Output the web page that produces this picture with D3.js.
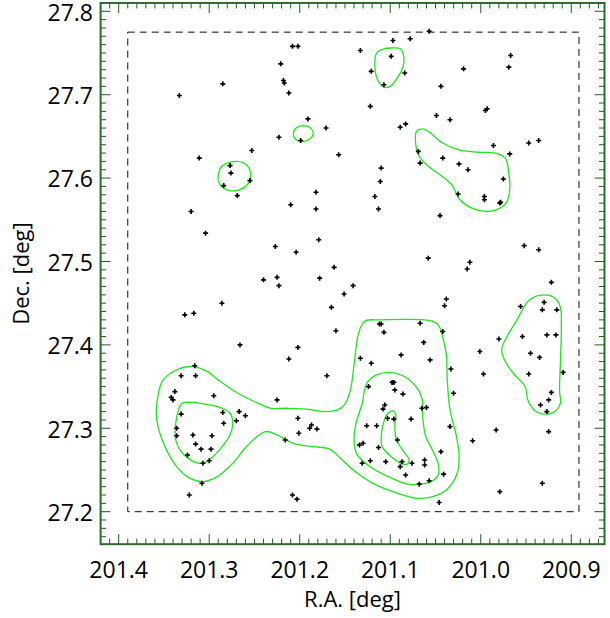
<!DOCTYPE html>
<html>
<head>
<meta charset="utf-8">
<script src="https://cdn.jsdelivr.net/npm/d3@7"></script>
<style>
  html, body { margin: 0; padding: 0; background: #fff; }
  svg { display: block; }
  text { font-family: "Open Sans", "Noto Sans", sans-serif; fill: #000; }
</style>
</head>
<body>
<svg id="chart" width="610" height="618"></svg>
<script>
// Source positions (R.A., Dec. in degrees)
const starRA = [
  201.208, 201.202, 201.221, 201.285, 201.218, 201.217, 201.333, 201.212, 201.191, 201.171,
  201.223, 201.199, 201.253, 201.311, 201.157, 201.277, 201.276, 201.255, 201.284, 201.269,
  201.182, 201.210, 201.182, 201.320, 201.304, 201.179, 201.227, 201.204, 201.162, 201.240,
  201.225, 201.223, 201.178, 201.151, 201.286, 201.327, 201.317, 201.165, 201.160,
  201.057, 201.097, 201.078, 201.133, 201.099, 201.121, 201.084, 201.107, 200.967, 200.969,
  201.019, 201.044, 201.122, 200.995, 200.993, 201.049, 201.034, 201.089, 201.083, 200.947,
  200.936, 200.986, 200.968, 201.069, 201.042, 201.067, 201.024, 201.014, 201.110, 201.111,
  200.975, 201.117, 201.113, 201.025, 200.996, 200.996, 200.979, 200.978, 201.045, 200.952,
  200.936, 201.058, 201.012, 201.015, 201.141, 201.038, 201.040, 200.922, 200.956, 200.930,
  200.932, 200.916,
  201.112, 201.110, 201.067, 201.107, 201.042, 201.063, 201.088, 201.133, 201.121, 201.056,
  201.033, 200.954, 200.927, 200.917, 200.980, 201.001, 200.945, 200.935, 200.997, 200.947,
  200.909, 201.098, 201.096, 201.124, 201.095, 201.086, 201.030, 200.922, 200.925, 200.934,
  200.927, 201.106, 201.108, 201.065, 201.060, 201.103, 201.096, 201.077, 201.126, 201.115,
  201.034, 200.983, 200.925, 201.009, 201.092, 201.134, 201.130, 201.113, 201.044, 201.131,
  201.122, 201.105, 201.087, 201.076, 201.062, 201.062, 201.089, 201.083, 201.041, 201.068,
  201.057, 200.932, 200.979, 201.046,
  201.266, 201.202, 201.212, 201.170, 201.316, 201.331, 201.315, 201.338, 201.342, 201.340,
  201.295, 201.225, 201.331, 201.285, 201.267, 201.260, 201.270, 201.284, 201.336, 201.202,
  201.187, 201.189, 201.181, 201.201, 201.336, 201.318, 201.297, 201.315, 201.309, 201.298,
  201.324, 201.307, 201.300, 201.216, 201.308, 201.322, 201.208, 201.203
];
const starDec = [
  27.758, 27.758, 27.737, 27.713, 27.717, 27.714, 27.699, 27.702, 27.671, 27.660,
  27.649, 27.645, 27.633, 27.624, 27.628, 27.615, 27.606, 27.597, 27.591, 27.579,
  27.583, 27.568, 27.563, 27.560, 27.534, 27.526, 27.518, 27.511, 27.493, 27.478,
  27.481, 27.471, 27.480, 27.461, 27.450, 27.436, 27.438, 27.445, 27.417,
  27.776, 27.765, 27.767, 27.753, 27.746, 27.728, 27.726, 27.712, 27.747, 27.733,
  27.731, 27.710, 27.686, 27.681, 27.683, 27.675, 27.670, 27.661, 27.665, 27.642,
  27.645, 27.639, 27.629, 27.632, 27.624, 27.618, 27.617, 27.610, 27.612, 27.596,
  27.599, 27.578, 27.563, 27.581, 27.578, 27.574, 27.570, 27.571, 27.555, 27.519,
  27.514, 27.504, 27.499, 27.491, 27.471, 27.455, 27.447, 27.475, 27.446, 27.451,
  27.442, 27.442,
  27.425, 27.425, 27.426, 27.415, 27.416, 27.403, 27.388, 27.384, 27.378, 27.382,
  27.371, 27.410, 27.412, 27.412, 27.407, 27.392, 27.390, 27.385, 27.365, 27.365,
  27.367, 27.355, 27.355, 27.350, 27.346, 27.341, 27.342, 27.343, 27.334, 27.328,
  27.320, 27.328, 27.323, 27.324, 27.325, 27.312, 27.311, 27.311, 27.303, 27.303,
  27.302, 27.298, 27.296, 27.285, 27.286, 27.280, 27.282, 27.277, 27.272, 27.258,
  27.261, 27.260, 27.260, 27.258, 27.262, 27.256, 27.254, 27.244, 27.245, 27.233,
  27.237, 27.234, 27.224, 27.211,
  27.400, 27.397, 27.383, 27.363, 27.375, 27.363, 27.363, 27.344, 27.337, 27.334,
  27.339, 27.334, 27.317, 27.319, 27.320, 27.315, 27.309, 27.306, 27.300, 27.312,
  27.304, 27.300, 27.299, 27.294, 27.291, 27.292, 27.291, 27.281, 27.275, 27.275,
  27.268, 27.258, 27.261, 27.286, 27.234, 27.220, 27.220, 27.215
];

// Surface-density contours, as closed outlines of [R.A., Dec.] vertices
const contourSouthOuter = [
  [201.358, 27.328], [201.352, 27.356], [201.338, 27.369], [201.318, 27.374], [201.302, 27.368],
  [201.290, 27.358], [201.273, 27.345], [201.252, 27.333], [201.232, 27.324], [201.214, 27.324],
  [201.192, 27.323], [201.172, 27.320], [201.158, 27.322], [201.150, 27.329], [201.144, 27.346],
  [201.140, 27.376], [201.136, 27.409], [201.132, 27.423], [201.127, 27.429], [201.111, 27.430],
  [201.056, 27.429], [201.047, 27.424], [201.042, 27.409], [201.038, 27.388], [201.037, 27.358],
  [201.034, 27.322], [201.027, 27.291], [201.024, 27.267], [201.026, 27.246], [201.037, 27.227],
  [201.053, 27.218], [201.070, 27.216], [201.097, 27.224], [201.119, 27.234], [201.141, 27.250],
  [201.155, 27.264], [201.167, 27.275], [201.185, 27.278], [201.207, 27.282], [201.225, 27.292],
  [201.238, 27.296], [201.258, 27.279], [201.274, 27.258], [201.291, 27.242], [201.307, 27.236],
  [201.321, 27.240], [201.336, 27.254], [201.352, 27.286], [201.358, 27.310]
];
const contourWestInner = [
  [201.334, 27.322], [201.330, 27.330], [201.318, 27.331], [201.305, 27.329], [201.291, 27.326],
  [201.277, 27.318], [201.274, 27.306], [201.277, 27.292], [201.288, 27.275], [201.299, 27.263],
  [201.307, 27.258], [201.319, 27.261], [201.331, 27.272], [201.337, 27.286], [201.337, 27.306]
];
const contourCoreMid = [
  [201.131, 27.330], [201.126, 27.354], [201.115, 27.364], [201.100, 27.367], [201.086, 27.363],
  [201.073, 27.352], [201.065, 27.336], [201.064, 27.312], [201.061, 27.291], [201.053, 27.273],
  [201.047, 27.257], [201.047, 27.244], [201.055, 27.236], [201.067, 27.233], [201.081, 27.233],
  [201.100, 27.241], [201.121, 27.253], [201.137, 27.269], [201.140, 27.286], [201.138, 27.305]
];
const contourCoreInner = [
  [201.104, 27.316], [201.100, 27.320], [201.097, 27.321], [201.094, 27.317], [201.095, 27.302],
  [201.093, 27.286], [201.085, 27.272], [201.079, 27.262], [201.081, 27.257], [201.088, 27.258],
  [201.099, 27.266], [201.109, 27.278], [201.110, 27.290], [201.108, 27.304]
];
const contourEast = [
  [200.946, 27.454], [200.931, 27.460], [200.918, 27.456], [200.912, 27.445], [200.911, 27.421],
  [200.912, 27.378], [200.913, 27.346], [200.912, 27.330], [200.916, 27.322], [200.927, 27.317],
  [200.940, 27.321], [200.948, 27.334], [200.951, 27.350], [200.964, 27.366], [200.973, 27.380],
  [200.977, 27.394], [200.973, 27.406], [200.960, 27.430]
];
const contourNorthEast = [
  [201.071, 27.656], [201.065, 27.659], [201.058, 27.656], [201.042, 27.642], [201.025, 27.634],
  [201.004, 27.631], [200.984, 27.630], [200.973, 27.624], [200.969, 27.606], [200.968, 27.586],
  [200.972, 27.570], [200.983, 27.562], [200.995, 27.560], [201.010, 27.564], [201.023, 27.574],
  [201.032, 27.592], [201.045, 27.604], [201.060, 27.616], [201.069, 27.628], [201.072, 27.642]
];
const contourNorth = [
  [201.115, 27.750], [201.107, 27.755], [201.099, 27.756], [201.089, 27.755], [201.085, 27.745],
  [201.086, 27.733], [201.091, 27.722], [201.100, 27.710], [201.107, 27.709], [201.114, 27.718],
  [201.117, 27.734]
];
const contourWest = [
  [201.290, 27.604], [201.287, 27.613], [201.280, 27.618], [201.270, 27.620], [201.259, 27.616],
  [201.254, 27.604], [201.258, 27.592], [201.267, 27.586], [201.277, 27.585], [201.286, 27.589],
  [201.290, 27.597]
];
const contourSmall = [
  [201.207, 27.654], [201.203, 27.661], [201.196, 27.663], [201.189, 27.661], [201.185, 27.653],
  [201.189, 27.647], [201.196, 27.644], [201.204, 27.646]
];
const contours = [contourSouthOuter, contourWestInner, contourCoreMid, contourCoreInner,
                  contourEast, contourNorthEast, contourNorth, contourWest, contourSmall];

// Survey field boundary and axis ticks
const fieldRA = [201.39, 200.8915];
const fieldDec = [27.2, 27.775];
const raMajor = [201.4, 201.3, 201.2, 201.1, 201.0, 200.9];
const raLabels = ["201.4", "201.3", "201.2", "201.1", "201.0", "200.9"];
const decMajor = [27.2, 27.3, 27.4, 27.5, 27.6, 27.7, 27.8];
const decLabels = ["27.2", "27.3", "27.4", "27.5", "27.6", "27.7", "27.8"];

const svg = d3.select("#chart");
const x = d3.scaleLinear().domain([201.42, 200.8633]).range([100.6, 604.5]);
const y = d3.scaleLinear().domain([27.161, 27.81]).range([544.2, 2.96]);
const [x0, x1] = x.range();
const [y0, y1] = y.range();

const frameColor = "#2d6a2d";
const tickColor = "#245a24";

// minor tick positions every 0.01 deg
const raMinor = d3.range(0, 57).map(i => +(201.42 - i * 0.01).toFixed(2)).filter(v => v <= 201.42 && v >= 200.8633);
const decMinor = d3.range(0, 65).map(i => +(27.17 + i * 0.01).toFixed(2)).filter(v => v >= 27.161 && v <= 27.81);
const isMajor = (v, arr) => arr.some(m => Math.abs(m - v) < 1e-6);

const ticks = svg.append("g").attr("stroke", tickColor).attr("stroke-width", 1);
raMinor.forEach(v => {
  const L = isMajor(v, raMajor) ? 10 : 5.5;
  ticks.append("line").attr("x1", x(v)).attr("x2", x(v)).attr("y1", y0).attr("y2", y0 - L);
  ticks.append("line").attr("x1", x(v)).attr("x2", x(v)).attr("y1", y1).attr("y2", y1 + L);
});
decMinor.forEach(v => {
  const L = isMajor(v, decMajor) ? 10 : 5.5;
  ticks.append("line").attr("y1", y(v)).attr("y2", y(v)).attr("x1", x0).attr("x2", x0 + L);
  ticks.append("line").attr("y1", y(v)).attr("y2", y(v)).attr("x1", x1).attr("x2", x1 - L);
});

// frame
svg.append("rect")
  .attr("x", x0).attr("y", y1)
  .attr("width", x1 - x0).attr("height", y0 - y1)
  .attr("fill", "none").attr("stroke", frameColor).attr("stroke-width", 2);

// field boundary
svg.append("rect")
  .attr("x", x(fieldRA[0])).attr("y", y(fieldDec[1]))
  .attr("width", x(fieldRA[1]) - x(fieldRA[0]))
  .attr("height", y(fieldDec[0]) - y(fieldDec[1]))
  .attr("fill", "none").attr("stroke", "#111").attr("stroke-width", 1)
  .attr("stroke-dasharray", "7,5");

// density contours
const line = d3.line()
  .x(d => x(d[0])).y(d => y(d[1]))
  .curve(d3.curveCatmullRomClosed.alpha(0.5));
svg.append("g").selectAll("path").data(contours).join("path")
  .attr("d", line)
  .attr("fill", "none").attr("stroke", "#1fe61f").attr("stroke-width", 1.3);

// sources
const s = 2.5;
svg.append("g").selectAll("path").data(starRA).join("path")
  .attr("d", (d, i) => {
    const px = x(d), py = y(starDec[i]);
    return `M${px - s},${py}H${px + s}M${px},${py - s}V${py + s}`;
  })
  .attr("stroke", "#000").attr("stroke-width", 1.6).attr("fill", "none");

// axis labels
svg.append("g").selectAll("text").data(raMajor).join("text")
  .attr("x", d => x(d)).attr("y", 578)
  .attr("text-anchor", "middle").attr("font-size", 23)
  .text((d, i) => raLabels[i]);
svg.append("g").selectAll("text").data(decMajor).join("text")
  .attr("x", 93).attr("y", d => y(d) + 9.3)
  .attr("text-anchor", "end").attr("font-size", 23)
  .text((d, i) => decLabels[i]);

svg.append("text")
  .attr("x", (x0 + x1) / 2).attr("y", 607)
  .attr("text-anchor", "middle").attr("font-size", 22)
  .text("R.A. [deg]");
svg.append("text")
  .attr("transform", `translate(29,${(y0 + y1) / 2}) rotate(-90)`)
  .attr("text-anchor", "middle").attr("font-size", 22)
  .text("Dec. [deg]");
</script>
</body>
</html>
